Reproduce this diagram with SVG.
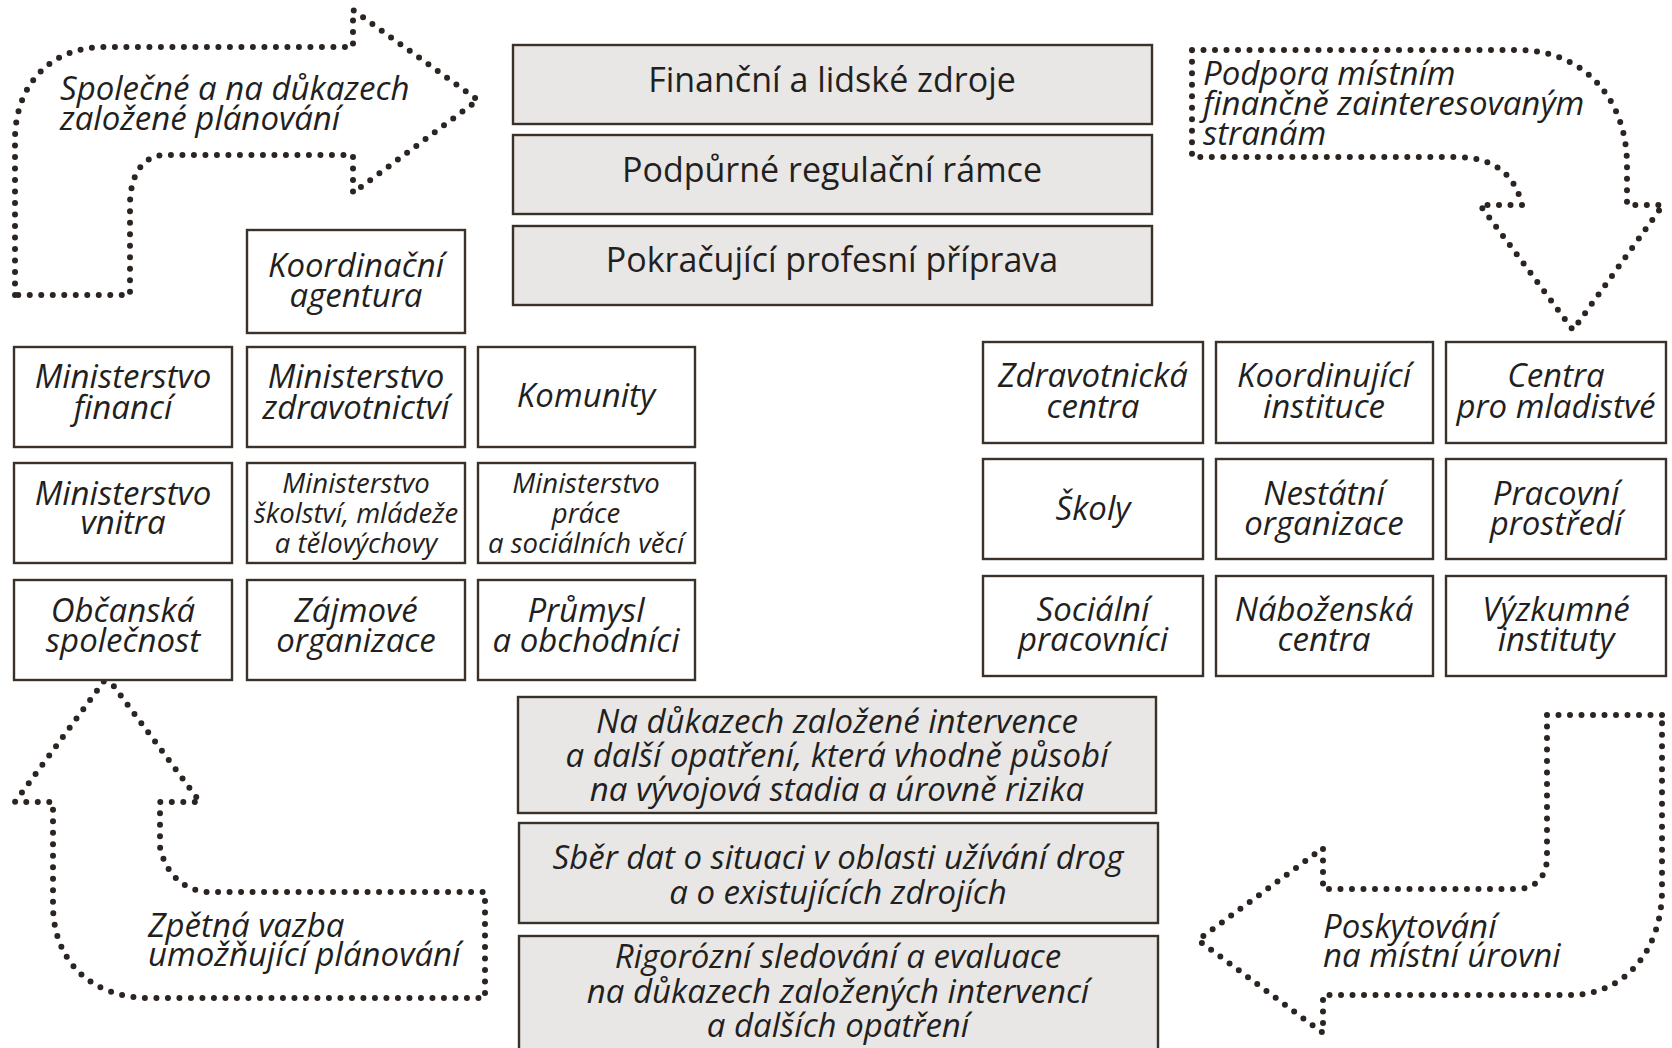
<svg xmlns="http://www.w3.org/2000/svg" width="1672" height="1048" viewBox="0 0 1672 1048">
<style>
.box{fill:#ffffff;stroke:#3a3129;stroke-width:2.4}
.gbox{fill:#e8e7e5;stroke:#3a3129;stroke-width:2.4}
.t{font-family:"Open Sans","Noto Sans","Liberation Sans",sans-serif;font-style:italic;font-weight:500;font-size:33px;fill:#231f1e;text-anchor:middle}
.ts{font-size:27.5px}
.tu{font-family:"Open Sans","Noto Sans","Liberation Sans",sans-serif;font-weight:500;font-size:34px;fill:#231f1e;text-anchor:middle}
.lab{font-family:"Open Sans","Noto Sans","Liberation Sans",sans-serif;font-style:italic;font-weight:500;font-size:33px;fill:#231f1e}
.dot{fill:none;stroke:#2b2420;stroke-width:6;stroke-linecap:round;stroke-linejoin:round;stroke-dasharray:0 11.5}
</style>
<rect width="1672" height="1048" fill="#ffffff"/>

<g id="connectors">
  <path class="dot" d="M 15 295 L 15 140 C 15 85 50 47 105 47 L 353 47 L 353 10 L 478 100 L 353 193 L 353 155 L 165 155 C 145 155 130 172 130 205 L 130 295 Z"/>
  <path class="dot" d="M 1192 50 L 1517 50 C 1585 50 1627 100 1627 165 L 1627 205 L 1663 205 L 1573 330 L 1480 205 L 1522 205 C 1515 175 1495 157 1455 157 L 1192 157 Z"/>
  <path class="dot" d="M 107 677 L 200 802 L 160 802 L 160 847 C 165 872 182 890 207 892 L 485 892 L 485 998 L 150 998 C 90 998 53 960 53 905 L 53 802 L 15 802 Z"/>
  <path class="dot" d="M 1662 715 L 1547 715 L 1547 857 C 1547 877 1535 889 1517 889 L 1323 889 L 1323 848 L 1198 940 L 1323 1033 L 1323 995 L 1570 995 C 1625 995 1662 950 1662 890 Z"/>
</g>

<g id="label-planovani">
  <text class="lab" x="60" y="100">Společné a na důkazech</text>
  <text class="lab" x="60" y="130">založené plánování</text>
</g>
<g id="label-podpora">
  <text class="lab" x="1203" y="85">Podpora místním</text>
  <text class="lab" x="1203" y="115">finančně zainteresovaným</text>
  <text class="lab" x="1203" y="145">stranám</text>
</g>
<g id="label-zpetna">
  <text class="lab" x="148" y="937">Zpětná vazba</text>
  <text class="lab" x="148" y="966">umožňující plánování</text>
</g>
<g id="label-poskytovani">
  <text class="lab" x="1323" y="938">Poskytování</text>
  <text class="lab" x="1323" y="967">na místní úrovni</text>
</g>

<g id="top-zdroje"><rect class="gbox" x="513" y="45" width="639" height="79"/><text class="tu" x="832" y="92">Finanční a lidské zdroje</text></g>
<g id="top-ramce"><rect class="gbox" x="513" y="135" width="639" height="79"/><text class="tu" x="832" y="182">Podpůrné regulační rámce</text></g>
<g id="top-priprava"><rect class="gbox" x="513" y="226" width="639" height="79"/><text class="tu" x="832" y="272">Pokračující profesní příprava</text></g>

<g id="koordinacni-agentura"><rect class="box" x="247" y="230" width="218" height="103"/><text class="t" x="356" y="277">Koordinační</text><text class="t" x="356" y="307">agentura</text></g>

<g id="min-financi"><rect class="box" x="14" y="347" width="218" height="100"/><text class="t" x="123" y="388">Ministerstvo</text><text class="t" x="123" y="419">financí</text></g>
<g id="min-zdravotnictvi"><rect class="box" x="247" y="347" width="218" height="100"/><text class="t" x="356" y="388">Ministerstvo</text><text class="t" x="356" y="419">zdravotnictví</text></g>
<g id="komunity"><rect class="box" x="478" y="347" width="217" height="100"/><text class="t" x="586" y="407">Komunity</text></g>

<g id="min-vnitra"><rect class="box" x="14" y="463" width="218" height="100"/><text class="t" x="123" y="505">Ministerstvo</text><text class="t" x="123" y="534">vnitra</text></g>
<g id="min-skolstvi"><rect class="box" x="247" y="463" width="218" height="100"/><text class="t ts" x="356" y="493">Ministerstvo</text><text class="t ts" x="356" y="523">školství, mládeže</text><text class="t ts" x="356" y="553">a tělovýchovy</text></g>
<g id="min-prace"><rect class="box" x="478" y="463" width="217" height="100"/><text class="t ts" x="586" y="493">Ministerstvo</text><text class="t ts" x="586" y="523">práce</text><text class="t ts" x="586" y="553">a sociálních věcí</text></g>

<g id="obcanska-spolecnost"><rect class="box" x="14" y="580" width="218" height="100"/><text class="t" x="123" y="622">Občanská</text><text class="t" x="123" y="652">společnost</text></g>
<g id="zajmove-organizace"><rect class="box" x="247" y="580" width="218" height="100"/><text class="t" x="356" y="622">Zájmové</text><text class="t" x="356" y="652">organizace</text></g>
<g id="prumysl"><rect class="box" x="478" y="580" width="217" height="100"/><text class="t" x="586" y="622">Průmysl</text><text class="t" x="586" y="652">a obchodníci</text></g>

<g id="zdravotnicka-centra"><rect class="box" x="983" y="342" width="220" height="101"/><text class="t" x="1093" y="387">Zdravotnická</text><text class="t" x="1093" y="418">centra</text></g>
<g id="koordinujici-instituce"><rect class="box" x="1216" y="342" width="217" height="101"/><text class="t" x="1324" y="387">Koordinující</text><text class="t" x="1324" y="418">instituce</text></g>
<g id="centra-mladistve"><rect class="box" x="1446" y="342" width="220" height="101"/><text class="t" x="1556" y="387">Centra</text><text class="t" x="1556" y="418">pro mladistvé</text></g>

<g id="skoly"><rect class="box" x="983" y="459" width="220" height="100"/><text class="t" x="1093" y="520">Školy</text></g>
<g id="nestatni-organizace"><rect class="box" x="1216" y="459" width="217" height="100"/><text class="t" x="1324" y="505">Nestátní</text><text class="t" x="1324" y="535">organizace</text></g>
<g id="pracovni-prostredi"><rect class="box" x="1446" y="459" width="220" height="100"/><text class="t" x="1556" y="505">Pracovní</text><text class="t" x="1556" y="535">prostředí</text></g>

<g id="socialni-pracovnici"><rect class="box" x="983" y="576" width="220" height="100"/><text class="t" x="1093" y="621">Sociální</text><text class="t" x="1093" y="651">pracovníci</text></g>
<g id="nabozenska-centra"><rect class="box" x="1216" y="576" width="217" height="100"/><text class="t" x="1324" y="621">Náboženská</text><text class="t" x="1324" y="651">centra</text></g>
<g id="vyzkumne-instituty"><rect class="box" x="1446" y="576" width="220" height="100"/><text class="t" x="1556" y="621">Výzkumné</text><text class="t" x="1556" y="651">instituty</text></g>

<g id="intervence"><rect class="gbox" x="518" y="697" width="638" height="116"/><text class="t" x="837" y="733">Na důkazech založené intervence</text><text class="t" x="837" y="767">a další opatření, která vhodně působí</text><text class="t" x="837" y="801">na vývojová stadia a úrovně rizika</text></g>
<g id="sber-dat"><rect class="gbox" x="519" y="823" width="639" height="100"/><text class="t" x="838" y="869">Sběr dat o situaci v oblasti užívání drog</text><text class="t" x="838" y="904">a o existujících zdrojích</text></g>
<g id="sledovani"><rect class="gbox" x="519" y="936" width="639" height="120"/><text class="t" x="838" y="968">Rigorózní sledování a evaluace</text><text class="t" x="838" y="1003">na důkazech založených intervencí</text><text class="t" x="838" y="1037">a dalších opatření</text></g>
</svg>
